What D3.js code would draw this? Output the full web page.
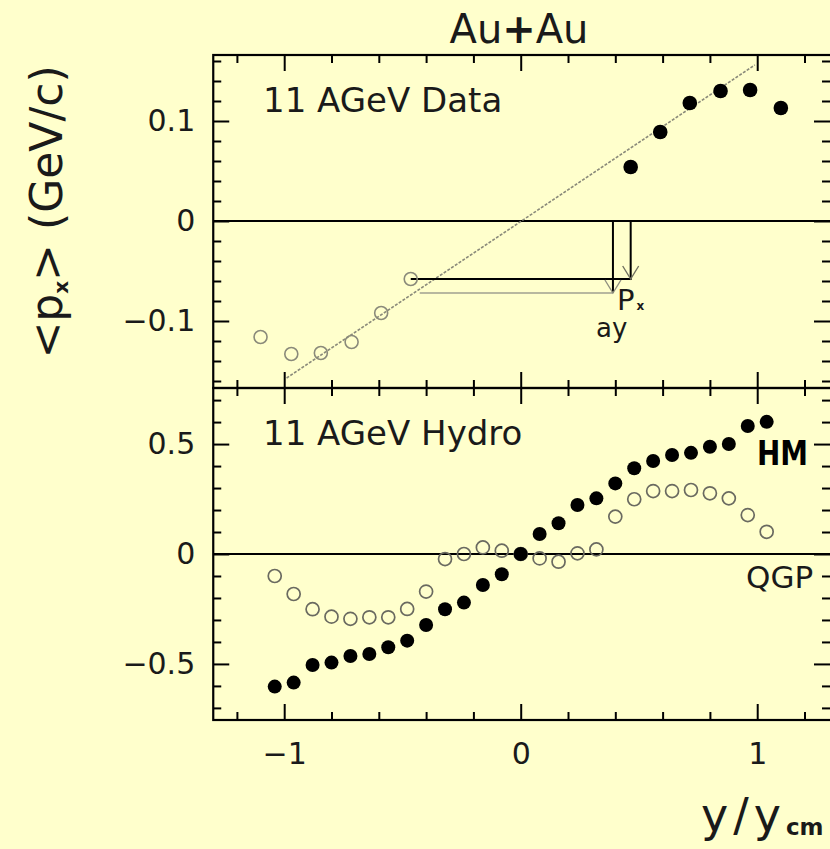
<!DOCTYPE html>
<html>
<head>
<meta charset="utf-8">
<script src="https://cdn.jsdelivr.net/npm/d3@7"></script>
<style>
  html, body { margin: 0; padding: 0; background: #ffffcc; }
  svg { display: block; }
  text { font-family: "DejaVu Sans", sans-serif; }
</style>
</head>
<body>
<svg id="chart" width="830" height="849"></svg>
<script>
// ---------------- data ----------------
// top panel: 11 AGeV data
const dataOpenX   = [-1.10, -0.97, -0.845, -0.715, -0.59, -0.465];
const dataOpenY   = [-0.116, -0.133, -0.132, -0.121, -0.092, -0.058];
const dataFilledX = [0.465, 0.59, 0.715, 0.845, 0.97, 1.10];
const dataFilledY = [0.054, 0.089, 0.118, 0.130, 0.131, 0.113];
const fitX = [-0.99, 0.99];
const fitY = [-0.157, 0.156];
// arrow construction in top panel
const arrowBlackX = [-0.465, 0.465, 0.465];
const arrowBlackY = [-0.058, -0.058, 0.0];
const arrowLeftX  = [0.39, 0.39];
const arrowLeftY  = [0.0, -0.072];
const arrowGrayX  = [-0.427, 0.39];
const arrowGrayY  = [-0.072, -0.072];

// bottom panel: 11 AGeV hydro
const hydroX = [-1.04, -0.96, -0.88, -0.80, -0.72, -0.64, -0.56, -0.48, -0.40, -0.32, -0.24, -0.16, -0.08, 0.0,
                 0.08, 0.16, 0.24, 0.32, 0.40, 0.48, 0.56, 0.64, 0.72, 0.80, 0.88, 0.96, 1.04];
const hmY  = [-0.603, -0.585, -0.505, -0.494, -0.464, -0.455, -0.424, -0.394, -0.323, -0.251, -0.221, -0.141, -0.092, 0.0,
               0.091, 0.140, 0.223, 0.253, 0.321, 0.390, 0.423, 0.450, 0.460, 0.488, 0.500, 0.582, 0.601];
const qgpY = [-0.100, -0.182, -0.251, -0.285, -0.295, -0.288, -0.288, -0.250, -0.171, -0.023, 0.000, 0.030, 0.015, 0.0,
              -0.020, -0.035, 0.003, 0.021, 0.170, 0.249, 0.286, 0.286, 0.291, 0.276, 0.253, 0.177, 0.101];

// ticks
const xMajor = [-1, 0, 1];
const xMinor = [-1.2, -0.8, -0.6, -0.4, -0.2, 0.2, 0.4, 0.6, 0.8, 1.2];
const xLabels = ["\u22121", "0", "1"];
const topMajor = [-0.1, 0, 0.1];
const topMinor = [-0.16, -0.14, -0.12, -0.08, -0.06, -0.04, -0.02, 0.02, 0.04, 0.06, 0.08, 0.12, 0.14, 0.16];
const topLabels = ["\u22120.1", "0", "0.1"];
const botMajor = [-0.5, 0, 0.5];
const botMinor = [-0.7, -0.6, -0.4, -0.3, -0.2, -0.1, 0.1, 0.2, 0.3, 0.4, 0.6, 0.7];
const botLabels = ["\u22120.5", "0", "0.5"];

// ---------------- layout ----------------
const svg = d3.select("#chart");
svg.append("rect").attr("width", 830).attr("height", 849).attr("fill", "#ffffcc");

const X0 = 213.25, X1 = 831;
const x = d3.scaleLinear().domain([-1.3, 1.312]).range([X0, X1]);
const yT = d3.scaleLinear().domain([-0.167, 0.166]).range([388, 55]);
const yB = d3.scaleLinear().domain([-0.755, 0.755]).range([720, 388]);

const MAJ = 16, MIN = 8;
const textCol = "#1a1a1a";

function panel(y, major, minor, labels, showX) {
  const g = svg.append("g");
  const [yb, yt] = y.range();
  const lab = d3.scaleOrdinal().domain(major).range(labels);
  // left
  g.append("g").attr("transform", `translate(${X0},0)`)
    .call(d3.axisLeft(y).tickValues(major).tickSize(-MAJ).tickSizeOuter(0).tickPadding(18).tickFormat(d => lab(d)));
  g.append("g").attr("transform", `translate(${X0},0)`)
    .call(d3.axisLeft(y).tickValues(minor).tickSize(-MIN).tickSizeOuter(0).tickFormat(""));
  // right
  g.append("g").attr("transform", `translate(${X1 - 1},0)`)
    .call(d3.axisRight(y).tickValues(major).tickSize(-MAJ).tickSizeOuter(0).tickFormat(""));
  g.append("g").attr("transform", `translate(${X1 - 1},0)`)
    .call(d3.axisRight(y).tickValues(minor).tickSize(-MIN).tickSizeOuter(0).tickFormat(""));
  // top
  g.append("g").attr("transform", `translate(0,${yt})`)
    .call(d3.axisTop(x).tickValues(xMajor).tickSize(-MAJ).tickSizeOuter(0).tickFormat(""));
  g.append("g").attr("transform", `translate(0,${yt})`)
    .call(d3.axisTop(x).tickValues(xMinor).tickSize(-MIN).tickSizeOuter(0).tickFormat(""));
  // bottom
  const xl = d3.scaleOrdinal().domain(xMajor).range(xLabels);
  g.append("g").attr("transform", `translate(0,${yb})`)
    .call(d3.axisBottom(x).tickValues(xMajor).tickSize(-MAJ).tickSizeOuter(0).tickPadding(23)
      .tickFormat(d => showX ? xl(d) : ""));
  g.append("g").attr("transform", `translate(0,${yb})`)
    .call(d3.axisBottom(x).tickValues(xMinor).tickSize(-MIN).tickSizeOuter(0).tickFormat(""));
  g.selectAll(".domain").remove();
  g.selectAll(".tick line").attr("stroke", "#000").attr("stroke-width", 2);
  g.selectAll(".tick text").attr("font-size", 30).attr("fill", textCol)
    .attr("font-family", "DejaVu Sans, sans-serif");
  // zero line
  g.append("line").attr("x1", X0).attr("x2", X1).attr("y1", y(0)).attr("y2", y(0))
    .attr("stroke", "#000").attr("stroke-width", 2);
  // frame
  g.append("rect").attr("x", X0).attr("y", yt).attr("width", X1 + 2 - X0).attr("height", yb - yt)
    .attr("fill", "none").attr("stroke", "#000").attr("stroke-width", 2.2);
  return g;
}

const gT = panel(yT, topMajor, topMinor, topLabels, false);
const gB = panel(yB, botMajor, botMinor, botLabels, true);

// ---------------- top panel marks ----------------
const line = (xs, ys, y) => d3.line()(xs.map((v, i) => [x(v), y(ys[i])]));
svg.append("path").attr("d", line(fitX, fitY, yT)).attr("fill", "none")
  .attr("stroke", "#8a8a7a").attr("stroke-width", 1.6).attr("stroke-dasharray", "3,1.5");
svg.append("path").attr("d", line(arrowGrayX, arrowGrayY, yT)).attr("fill", "none")
  .attr("stroke", "#a0a090").attr("stroke-width", 1.6);
svg.append("path").attr("d", line(arrowBlackX, arrowBlackY, yT)).attr("fill", "none")
  .attr("stroke", "#000").attr("stroke-width", 2);
svg.append("path").attr("d", line(arrowLeftX, arrowLeftY, yT)).attr("fill", "none")
  .attr("stroke", "#000").attr("stroke-width", 2);
// arrow heads (V shapes), built from the arrow end points
function vHead(xv, yv, y, col) {
  const px = x(xv), py = y(yv);
  svg.append("path").attr("d", `M${px - 8},${py - 13}L${px},${py}L${px + 8},${py - 13}`)
    .attr("fill", "none").attr("stroke", col).attr("stroke-width", 1.4);
}
vHead(arrowBlackX[1], arrowBlackY[1], yT, "#707060");
vHead(arrowLeftX[1], arrowLeftY[1], yT, "#909080");

svg.append("g").selectAll("circle").data(dataOpenX).join("circle")
  .attr("cx", d => x(d)).attr("cy", (d, i) => yT(dataOpenY[i])).attr("r", 6.5)
  .attr("fill", "none").attr("stroke", "#8a8a7a").attr("stroke-width", 1.6);
svg.append("g").selectAll("circle").data(dataFilledX).join("circle")
  .attr("cx", d => x(d)).attr("cy", (d, i) => yT(dataFilledY[i])).attr("r", 7.3)
  .attr("fill", "#000");

// P_x and ay labels
const px = svg.append("text").attr("x", 617).attr("y", 310).attr("font-size", 29).attr("fill", textCol);
px.append("tspan").text("P");
px.append("tspan").attr("font-size", 12).attr("font-weight", "bold").attr("dx", 2).attr("dy", 0).text("x");
svg.append("text").attr("x", 596).attr("y", 337).attr("font-size", 26).attr("fill", textCol).text("ay");

// ---------------- bottom panel marks ----------------
svg.append("g").selectAll("circle").data(hydroX).join("circle")
  .attr("cx", d => x(d)).attr("cy", (d, i) => yB(qgpY[i])).attr("r", 6.5)
  .attr("fill", "none").attr("stroke", "#6a6a60").attr("stroke-width", 1.7);
svg.append("g").selectAll("circle").data(hydroX).join("circle")
  .attr("cx", d => x(d)).attr("cy", (d, i) => yB(hmY[i])).attr("r", 7)
  .attr("fill", "#000");

// ---------------- texts ----------------
const title = svg.append("text").attr("x", 519).attr("y", 43).attr("text-anchor", "middle")
  .attr("font-size", 40).attr("fill", textCol);
title.append("tspan").text("Au");
title.append("tspan").attr("font-weight", "bold").text("+");
title.append("tspan").text("Au");
svg.append("text").attr("x", 263).attr("y", 112).attr("font-size", 34).attr("fill", textCol)
  .text("11 AGeV Data");
svg.append("text").attr("x", 263).attr("y", 445).attr("font-size", 34).attr("fill", textCol)
  .text("11 AGeV Hydro");
svg.append("text").attr("x", 757).attr("y", 465).attr("font-size", 33).attr("font-weight", "bold")
  .attr("textLength", 51).attr("lengthAdjust", "spacingAndGlyphs")
  .attr("fill", "#000").text("HM");
svg.append("text").attr("x", 746).attr("y", 588).attr("font-size", 31).attr("fill", textCol).text("QGP");

// axis titles
const yl = svg.append("text").attr("transform", "translate(62,212) rotate(-90)")
  .attr("text-anchor", "middle").attr("font-size", 44).attr("fill", textCol);
yl.append("tspan").text("<p");
yl.append("tspan").attr("font-size", 20).attr("font-weight", "bold").attr("dy", 6).text("x");
yl.append("tspan").attr("dy", -6).text("> (GeV/c)");

const xlab = svg.append("text").attr("x", 701).attr("y", 831)
  .attr("font-size", 46).attr("fill", textCol);
xlab.append("tspan").attr("letter-spacing", 5).text("y/y");
xlab.append("tspan").attr("font-size", 23).attr("font-weight", "bold").attr("dy", 4).text("cm");
</script>
</body>
</html>
